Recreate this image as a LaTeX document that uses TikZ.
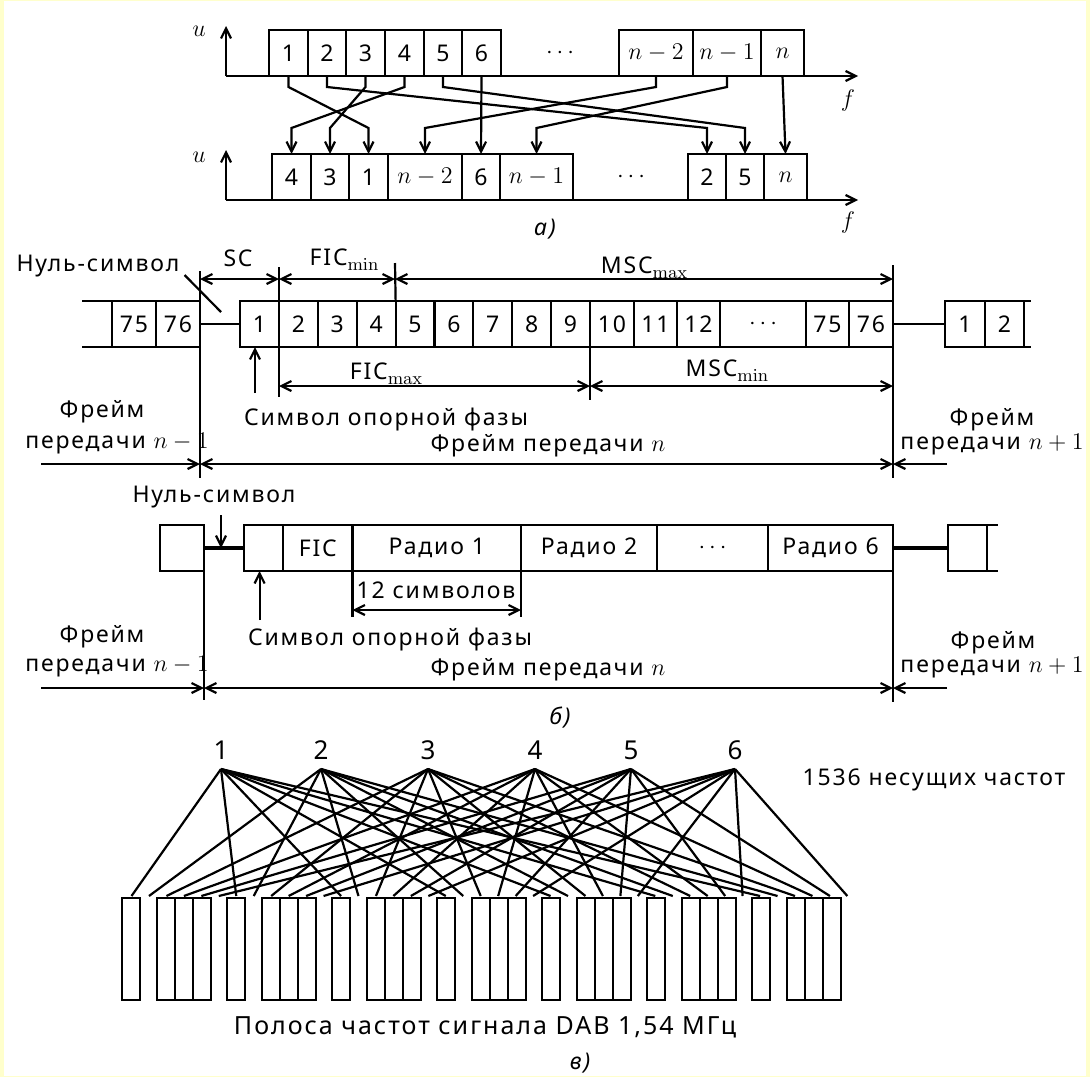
\documentclass[tikz,border=0pt]{standalone}
\usepackage[no-math]{fontspec}
\setmainfont{Noto Sans}[LetterSpace=8]
\usetikzlibrary{arrows.meta,positioning,calc}
\definecolor{bgyellow}{HTML}{FFFFCC}

% one cell of a frame: name, left x, right x, middle y, text
\newcommand{\frcell}[5]{%
  \pgfmathsetmacro\cellw{(#3-#2)*0.5}%
  \pgfmathsetmacro\cellx{(#2+#3)/2}%
  \node[cell, minimum width=\cellw pt] (#1) at (\cellx,#4) {#5};}
% roman subscript as in FIC_min
\newcommand{\sub}[1]{\raisebox{-2.6pt}{\fontsize{9}{10}\selectfont$\mathrm{#1}$}}

\begin{document}
\begin{tikzpicture}[x=0.5pt, y=-0.5pt,
  line width=1.1pt,
  font=\fontsize{11.5}{13}\selectfont,
  cell/.style={draw, inner sep=0pt, outer sep=0pt, minimum height=23pt},
  arr/.style={-{Straight Barb[length=5pt,width=5pt]}},
  dim/.style={{Straight Barb[length=5pt,width=5pt]}-{Straight Barb[length=5pt,width=5pt]}},
  lbl/.style={inner sep=0pt},
  null/.style={line width=1.7pt}
]
  \fill[bgyellow] (0,0) rectangle (1090,1077);
  \fill[white] (4,1) rectangle (1086,1076);
  \useasboundingbox (0,0) rectangle (1090,1077);

  % --- a) ---
  \coordinate (o1) at (226,76);   \coordinate (u1) at (226,26);  \coordinate (f1) at (858,76);
  \coordinate (o2) at (226,200);  \coordinate (u2) at (226,150); \coordinate (f2) at (858,200);
  \draw[arr] (o1) -- (u1);  \draw[arr] (o1) -- (f1);
  \draw[arr] (o2) -- (u2);  \draw[arr] (o2) -- (f2);
  \node[lbl, font=\large] (ulab1) at (199,31) {$u$};
  \node[lbl, font=\large] (flab1) at (848,100) {$f$};
  \node[lbl, font=\large] (ulab2) at (199,157) {$u$};
  \node[lbl, font=\large] (flab2) at (848,222) {$f$};

  \frcell{t1}{269}{308}{53}{1}
  \frcell{t2}{308}{346}{53}{2}
  \frcell{t3}{346}{385}{53}{3}
  \frcell{t4}{385}{424}{53}{4}
  \frcell{t5}{424}{462}{53}{5}
  \frcell{t6}{462}{501}{53}{6}
  \node[lbl] (tdots) at (560,53) {$\cdots$};
  \frcell{tn2}{619}{693}{53}{$n-2$}
  \frcell{tn1}{693}{761}{53}{$n-1$}
  \frcell{tn}{761}{804}{53}{$n$}

  \frcell{b4}{272}{311}{177}{4}
  \frcell{b3}{311}{349}{177}{3}
  \frcell{b1}{349}{388}{177}{1}
  \frcell{bn2}{388}{462}{177}{$n-2$}
  \frcell{b6}{462}{500}{177}{6}
  \frcell{bn1}{500}{573}{177}{$n-1$}
  \node[lbl] (bdots) at (631,177) {$\cdots$};
  \frcell{b2}{688}{726}{177}{2}
  \frcell{b5}{726}{764}{177}{5}
  \frcell{bn}{764}{807}{177}{$n$}

  \coordinate (hi) at (0,87);
  \coordinate (lo) at (0,128);
  \foreach \s in {1,2,3,4,5,n2,n1}
    \draw[arr] (t\s.south) -- (t\s.south |- hi) -- (b\s.north |- lo) -- (b\s.north);
  \draw[arr] (t6.south) -- (b6.north);
  \draw[arr] (tn.south) -- (bn.north);
  \node[lbl] (capa) at (545,229) {\itshape а)};

  % --- b), frame with symbols ---
  \frcell{p75}{112}{156}{324}{75}
  \frcell{p76}{156}{200}{324}{76}
  \draw (82,301) -- (p75.north west);
  \draw (82,347) -- (p75.south west);
  \frcell{c1}{240}{279}{324}{1}
  \foreach \k [evaluate=\k as \xa using {279+38.875*(\k-2)},
               evaluate=\k as \xb using {279+38.875*(\k-1)}] in {2,...,9}
    {\frcell{c\k}{\xa}{\xb}{324}{\k}}
  \frcell{c10}{590}{634}{324}{10}
  \frcell{c11}{634}{677}{324}{11}
  \frcell{c12}{677}{720}{324}{12}
  \frcell{cdots}{720}{806}{324}{$\cdots$}
  \frcell{c75}{806}{849}{324}{75}
  \frcell{c76}{849}{893}{324}{76}
  \frcell{n1}{945}{985}{324}{1}
  \frcell{n2}{985}{1024}{324}{2}
  \draw (n2.north east) -- (1031,301);
  \draw (n2.south east) -- (1031,347);
  \draw (p76.east) -- (c1.west);
  \draw (c76.east) -- (n1.west);

  \coordinate (bl1) at (200,271);  \coordinate (bl2) at (200,478);
  \coordinate (br1) at (893,265);  \coordinate (br2) at (893,478);
  \draw (bl1) -- (bl2);
  \draw (br1) -- (br2);
  \draw (279,267) -- (279,397);
  \draw (395,263) -- (c5.north west);
  \draw (c10.south west) -- (590,400);
  \draw[dim] (200,279) -- (279,279);
  \draw[dim] (279,279) -- (395,279);
  \draw[dim] (395,279) -- (893,279);
  \draw[dim] (279,386) -- (590,386);
  \draw[dim] (590,386) -- (893,386);
  \node[lbl, anchor=base] (sc) at (238,266) {SC};
  \node[lbl, anchor=base] (ficmin) at (344,265) {FIC\sub{min}};
  \node[lbl, anchor=base] (mscmax) at (644,273) {MSC\sub{max}};
  \node[lbl, anchor=base] (ficmax) at (386,379) {FIC\sub{max}};
  \node[lbl, anchor=base] (mscmin) at (727,376) {MSC\sub{min}};

  \node[lbl] (null1) at (98,266) {Нуль-символ};
  \coordinate (nl1) at (221,312);
  \draw ([shift={(4,9)}]null1.east) -- (nl1);
  \coordinate (rp1) at (255,393);
  \draw[arr] (rp1) -- (rp1 |- c1.south);
  \node[lbl] (ref1) at (386,420) {Символ опорной фазы};

  \node[lbl] (fl1a) at (102,412) {Фрейм};
  \node[lbl] (fl1b) at (117,444) {передачи $n-1$};
  \node[lbl] (fm1) at (548,446) {Фрейм передачи $n$};
  \node[lbl] (fr1a) at (992,420) {Фрейм};
  \node[lbl] (fr1b) at (992,445) {передачи $n+1$};
  \draw[arr] (41,464) -- (200,464);
  \draw[dim] (200,464) -- (893,464);
  \draw[arr] (947,464) -- (893,464);

  % --- b), frame with programmes ---
  \frcell{q0}{160}{204}{548}{}
  \frcell{r0}{244}{283}{548}{}
  \frcell{fic}{283}{352.5}{548}{FIC}
  \frcell{r1}{352.5}{521}{548}{Радио 1}
  \frcell{r2}{521}{657}{548}{Радио 2}
  \frcell{rdots}{657}{768}{548}{$\cdots$}
  \frcell{r6}{768}{893}{548}{Радио 6}
  \frcell{q1}{948}{987}{548}{}
  \draw (q1.north east) -- (998,525);
  \draw (q1.south east) -- (998,571);
  \draw[null] (q0.east) -- (r0.west);
  \draw[null] (r6.east) -- (q1.west);
  \draw (q0.north east) -- (204,700);
  \draw (r6.south east) -- (893,702);

  \node[lbl] (null2) at (214,497) {Нуль-символ};
  \coordinate (nl2) at (221,515);
  \draw[arr] (nl2) -- (nl2 |- q0.east);
  \coordinate (rp2) at (259.6,620);
  \draw[arr] (rp2) -- (rp2 |- r0.south);
  \node[lbl] (twelve) at (436,590) {12 символов};
  \draw (r1.south west) -- (352.5,617);
  \draw (r1.south east) -- (521,617);
  \draw[dim] (352.5,610) -- (521,610);
  \node[lbl] (ref2) at (390,640) {Символ опорной фазы};

  \node[lbl] (fl2a) at (102,637) {Фрейм};
  \node[lbl] (fl2b) at (117,667) {передачи $n-1$};
  \node[lbl] (fm2) at (548,670) {Фрейм передачи $n$};
  \node[lbl] (fr2a) at (993,643) {Фрейм};
  \node[lbl] (fr2b) at (992,668) {передачи $n+1$};
  \draw[arr] (41,688) -- (204,688);
  \draw[dim] (204,688) -- (893,688);
  \draw[arr] (947,688) -- (893,688);
  \node[lbl] (capb) at (560,718) {\itshape б)};

  % --- в) ---
  \foreach \i/\x in {1/221,2/321,3/428,4/535,5/631,6/735} {
    \node[lbl, font=\fontsize{13}{14}\selectfont] (prog\i) at (\x,750) {\i};
    \coordinate (p\i) at (\x,769);
  }
  \foreach \k in {0,...,41} {
    \pgfmathtruncatemacro\j{mod(\k,6)+1}
    \coordinate (e\k) at ({131.5+17.46*\k},896);
    \draw (p\j) -- (e\k);
  }
  \foreach \g in {0,...,6} {
    \pgfmathsetmacro\xs{121.8+105*\g}
    \draw (\xs,898) rectangle ++(18,102);
    \draw ({\xs+35},898) rectangle ++(54,102);
    \draw ({\xs+53},898) -- ++(0,102);
    \draw ({\xs+71},898) -- ++(0,102);
  }
  \node[lbl] (carriers) at (934,780) {1536 несущих частот};
  \node[lbl, font=\fontsize{12.5}{14}\selectfont] (band) at (485,1027) {Полоса частот сигнала DAB 1,54 МГц};
  \node[lbl] (capc) at (580,1063) {\itshape в)};
\end{tikzpicture}
\end{document}
